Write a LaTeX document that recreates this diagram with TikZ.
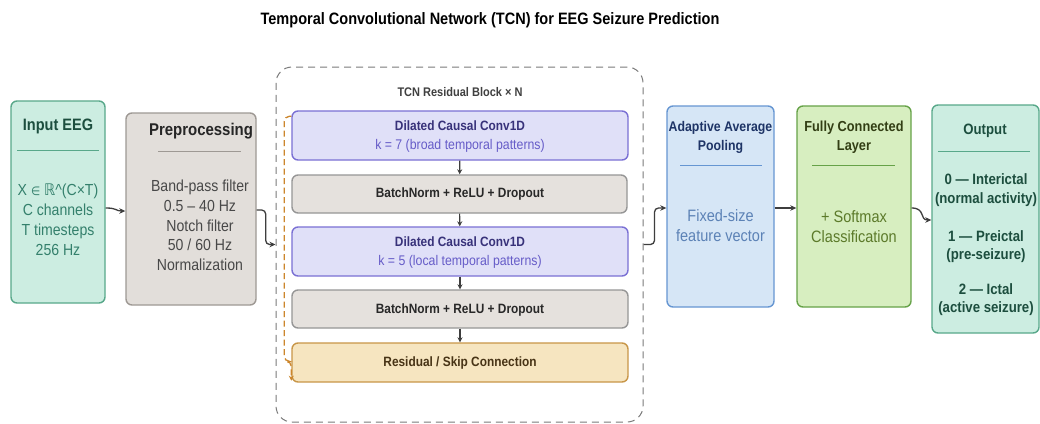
\documentclass[tikz,border=0pt]{standalone}
\usepackage{fontspec}
\setmainfont{Liberation Sans}[FakeStretch=0.88]
\newfontfamily\symf{DejaVu Sans}[FakeStretch=0.88]
\usetikzlibrary{arrows.meta}

\definecolor{tealfill}{RGB}{204,237,225}
\definecolor{tealline}{RGB}{88,168,138}
\definecolor{tealhead}{RGB}{28,78,62}
\definecolor{tealtext}{RGB}{52,128,108}
\definecolor{prefill}{RGB}{226,222,218}
\definecolor{preline}{RGB}{158,153,148}
\definecolor{pretext}{RGB}{72,72,72}
\definecolor{convfill}{RGB}{224,224,248}
\definecolor{convline}{RGB}{122,112,212}
\definecolor{convhead}{RGB}{56,50,122}
\definecolor{convtext}{RGB}{102,92,200}
\definecolor{bnfill}{RGB}{229,225,221}
\definecolor{bnline}{RGB}{150,150,150}
\definecolor{bntext}{RGB}{40,40,40}
\definecolor{resfill}{RGB}{246,229,192}
\definecolor{resline}{RGB}{200,150,72}
\definecolor{restext}{RGB}{72,52,22}
\definecolor{skipcol}{RGB}{204,134,44}
\definecolor{poolfill}{RGB}{214,230,246}
\definecolor{poolline}{RGB}{102,150,210}
\definecolor{poolhead}{RGB}{30,52,102}
\definecolor{pooltext}{RGB}{92,130,182}
\definecolor{fcfill}{RGB}{215,238,192}
\definecolor{fcline}{RGB}{102,162,72}
\definecolor{fchead}{RGB}{50,62,20}
\definecolor{fctext}{RGB}{92,122,42}
\definecolor{arrcol}{RGB}{62,62,62}
\definecolor{dashcol}{RGB}{122,122,122}

\newcommand\fsz[2]{\fontsize{#1}{#2}\selectfont}

\begin{document}
\begin{tikzpicture}[x=1pt,y=-1pt,
  box/.style={draw, rounded corners=6pt, line width=1.4pt, inner sep=0pt},
  lbl/.style={inner sep=0pt, align=center},
  arr/.style={draw=arrcol, line width=1.3pt, -{Stealth[length=6pt,width=5.5pt]}},
  sarr/.style={draw=arrcol, line width=1.1pt, -{Stealth[length=5pt,width=5pt]}},
  skip/.style={draw=skipcol, line width=1.3pt, dash pattern=on 6pt off 3.5pt,
    rounded corners=5pt, -{Stealth[length=5pt,width=5pt]}},
  rule/.style={line width=1pt}]

\useasboundingbox[fill=white] (0,0) rectangle (1040,423);

% title
\node[lbl, font=\bfseries\fsz{16.5}{20}] (title) at (490,20)
  {Temporal Convolutional Network (TCN) for EEG Seizure Prediction};

% input
\node[box, fill=tealfill, draw=tealline, minimum width=94pt, minimum height=202pt] (inp) at (58,202) {};
\node[lbl, font=\bfseries\fsz{16.5}{20}, text=tealhead] (inph) at (58,126) {Input EEG};
\draw[rule, tealline] (17,150) -- (99,150);
\node[lbl, font=\fsz{16}{20}, text=tealtext] (inpb) at (58,220)
  {X {\symf\fsz{12}{20}∈} {\symf ℝ}\^{}(C×T)\\C channels\\T timesteps\\256 Hz};

% preprocessing
\node[box, fill=prefill, draw=preline, minimum width=130pt, minimum height=192pt] (pre) at (191,209) {};
\node[lbl, font=\bfseries\fsz{17}{20}, text=black!85] (preh) at (201,131) {Preprocessing};
\draw[rule, preline] (158,151) -- (241,151);
\node[lbl, font=\fsz{16}{19.7}, text=pretext] (preb) at (200,225.5)
  {Band-pass filter\\0.5 – 40 Hz\\Notch filter\\50 / 60 Hz\\Normalization};

% TCN residual block container
\node[draw=dashcol, line width=1pt, dash pattern=on 7pt off 5pt, rounded corners=16pt,
  minimum width=367pt, minimum height=355pt, inner sep=0pt] (tcn) at (459.5,244.5) {};
\node[lbl, font=\bfseries\fsz{12.5}{15}, text=black!75] (tcnh) at (460,92) {TCN Residual Block × N};

\node[box, fill=convfill, draw=convline, minimum width=336pt, minimum height=49pt] (conv1) at (460,135.5) {};
\node[lbl, font=\bfseries\fsz{13.5}{16}, text=convhead] (conv1h) at (460,126) {Dilated Causal Conv1D};
\node[lbl, font=\fsz{14}{16}, text=convtext] (conv1b) at (460,146) {k = 7 (broad temporal patterns)};

\node[box, fill=bnfill, draw=bnline, minimum width=335pt, minimum height=38pt] (bn1) at (459.5,194) {};
\node[lbl, font=\bfseries\fsz{13.5}{16}, text=bntext] (bn1t) at (460,194) {BatchNorm + ReLU + Dropout};

\node[box, fill=convfill, draw=convline, minimum width=336pt, minimum height=49pt] (conv2) at (460,251.5) {};
\node[lbl, font=\bfseries\fsz{13.5}{16}, text=convhead] (conv2h) at (460,242) {Dilated Causal Conv1D};
\node[lbl, font=\fsz{14}{16}, text=convtext] (conv2b) at (460,262) {k = 5 (local temporal patterns)};

\node[box, fill=bnfill, draw=bnline, minimum width=336pt, minimum height=38pt] (bn2) at (460,309) {};
\node[lbl, font=\bfseries\fsz{13.5}{16}, text=bntext] (bn2t) at (460,310) {BatchNorm + ReLU + Dropout};

\node[box, fill=resfill, draw=resline, minimum width=336pt, minimum height=39pt] (res) at (460,362.5) {};
\node[lbl, font=\bfseries\fsz{13.5}{16}, text=restext] (rest) at (460,363) {Residual / Skip Connection};

\draw[sarr] (conv1) -- (bn1);
\draw[sarr] (bn1) -- (conv2);
\draw[sarr] (conv2) -- (bn2);
\draw[sarr] (bn2) -- (res);
\draw[skip] ([yshift=-6pt]conv1.north west) -- ++(-7,0) -- ++(0,245) -- ++(7,0)
  -- ([yshift=2pt]res.south west);

% pooling
\node[box, fill=poolfill, draw=poolline, minimum width=107pt, minimum height=201pt] (pool) at (720.5,206.5) {};
\node[lbl, font=\bfseries\fsz{14}{18.5}, text=poolhead] (poolh) at (720.5,137.5) {Adaptive Average\\Pooling};
\draw[rule, poolline] (680,165) -- (762,165);
\node[lbl, font=\fsz{16.5}{20}, text=pooltext] (poolb) at (720.5,226) {Fixed-size\\feature vector};

% fully connected
\node[box, fill=fcfill, draw=fcline, minimum width=114pt, minimum height=201pt] (fc) at (854,206.5) {};
\node[lbl, font=\bfseries\fsz{14.5}{19}, text=fchead] (fch) at (854,137.5) {Fully Connected\\Layer};
\draw[rule, fcline] (812,165) -- (895,165);
\node[lbl, font=\fsz{16.5}{20.5}, text=fctext] (fcb) at (854,226.5) {+ Softmax\\Classification};

% output
\node[box, fill=tealfill, draw=tealline, minimum width=107pt, minimum height=228pt] (out) at (985.5,219) {};
\node[lbl, font=\bfseries\fsz{15}{18}, text=tealhead] (outh) at (985,131) {Output};
\draw[rule, tealline] (938,151) -- (1030,151);
\node[lbl, font=\bfseries\fsz{15}{18.5}, text=tealhead] (out0) at (986,190) {0 — Interictal\\(normal activity)};
\node[lbl, font=\bfseries\fsz{15}{18.5}, text=tealhead] (out1) at (986,246.5) {1 — Preictal\\(pre-seizure)};
\node[lbl, font=\bfseries\fsz{15}{18.5}, text=tealhead] (out2) at (986,299.5) {2 — Ictal\\(active seizure)};

% flow between stages
\draw[arr] ([yshift=-6pt]inp.east) .. controls +(12,0) and +(-10,0) .. ([yshift=-2pt]pre.west);
\draw[arr, rounded corners=4pt] ([yshift=-1pt]pre.east) -- ++(9,0) |- (tcn.west);
\draw[arr, rounded corners=4pt] (tcn.east) -- ++(11,0) |- ([yshift=-1.5pt]pool.west);
\draw[arr] ([yshift=-1.5pt]pool.east) -- ([yshift=-1.5pt]fc.west);
\draw[arr] ([yshift=-1.5pt]fc.east) .. controls +(14,0) and +(-12,0) .. ([yshift=-1pt]out.west);

\end{tikzpicture}
\end{document}
